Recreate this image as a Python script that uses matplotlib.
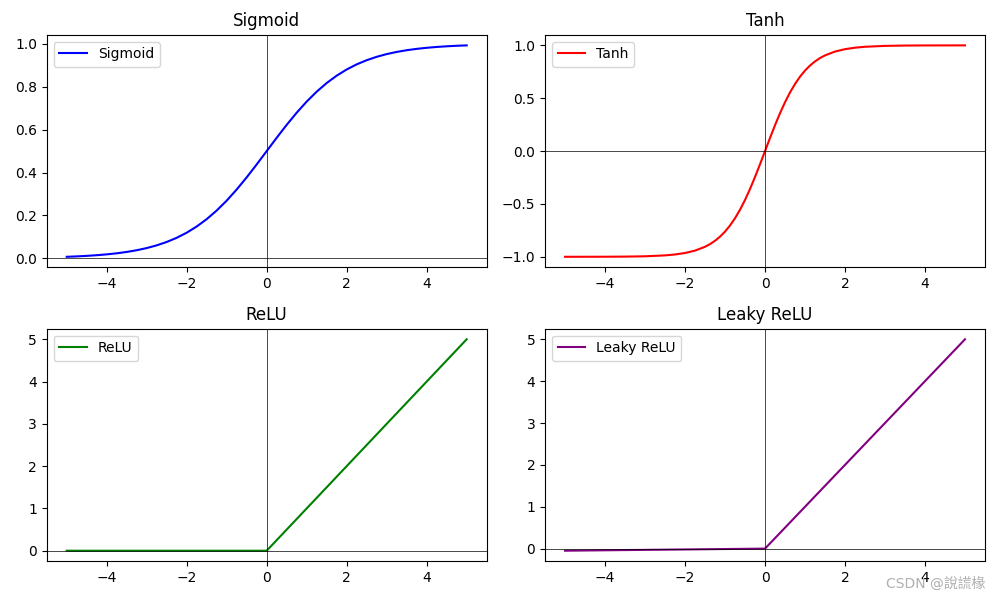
import matplotlib.pyplot as plt

plt.rcParams['font.family'] = ['DejaVu Sans', 'Noto Sans CJK TC']

# Values
sig_x = [-5, -4.75, -4.5, -4.25, -4, -3.75, -3.5, -3.25, -3, -2.75, -2.5, -2.25, -2,
         -1.75, -1.5, -1.25, -1, -0.75, -0.5, -0.25, 0,
         0.25, 0.5, 0.75, 1, 1.25, 1.5, 1.75, 2, 2.25, 2.5, 2.75, 3,
         3.25, 3.5, 3.75, 4, 4.25, 4.5, 4.75, 5]
sig_y = [0.0067, 0.0086, 0.0110, 0.0141, 0.0180, 0.0230, 0.0293, 0.0373, 0.0474, 0.0601,
         0.0759, 0.0953, 0.1192, 0.1480, 0.1824, 0.2227, 0.2689, 0.3208, 0.3775, 0.4378, 0.5,
         0.5622, 0.6225, 0.6792, 0.7311, 0.7773, 0.8176, 0.8520, 0.8808, 0.9047, 0.9241,
         0.9399, 0.9526, 0.9627, 0.9707, 0.9770, 0.9820, 0.9859, 0.9890, 0.9914, 0.9933]

tanh_x = [-5, -4, -3.5, -3, -2.5, -2.25, -2, -1.75, -1.5, -1.375, -1.25, -1.125, -1,
          -0.875, -0.75, -0.625, -0.5, -0.375, -0.25, -0.125, 0,
          0.125, 0.25, 0.375, 0.5, 0.625, 0.75, 0.875, 1, 1.125, 1.25, 1.375, 1.5,
          1.75, 2, 2.25, 2.5, 3, 3.5, 4, 5]
tanh_y = [-0.9999, -0.9993, -0.9982, -0.9951, -0.9866, -0.9780, -0.9640, -0.9414, -0.9051,
          -0.8800, -0.8483, -0.8093, -0.7616, -0.7039, -0.6351, -0.5546, -0.4621, -0.3584,
          -0.2449, -0.1244, 0.0,
          0.1244, 0.2449, 0.3584, 0.4621, 0.5546, 0.6351, 0.7039, 0.7616, 0.8093, 0.8483,
          0.8800, 0.9051, 0.9414, 0.9640, 0.9780, 0.9866, 0.9951, 0.9982, 0.9993, 0.9999]

relu_x = [-5, 0, 5]
relu_y = [0, 0, 5]

leaky_x = [-5, 0, 5]
leaky_y = [-0.05, 0, 5]

panels = [
    ("Sigmoid", sig_x, sig_y, "blue"),
    ("Tanh", tanh_x, tanh_y, "red"),
    ("ReLU", relu_x, relu_y, "green"),
    ("Leaky ReLU", leaky_x, leaky_y, "purple"),
]

fig, axes = plt.subplots(2, 2, figsize=(10, 6), dpi=100)
for ax, (name, x, y, c) in zip(axes.flat, panels):
    ax.plot(x, y, color=c, label=name)
    ax.axhline(0, color="black", linewidth=0.5)
    ax.axvline(0, color="black", linewidth=0.5)
    ax.set_title(name)
    ax.legend(loc="upper left")

plt.tight_layout()
fig.subplots_adjust(top=0.942)
fig.text(0.985, 0.015, "CSDN @說謊椽", ha="right", va="bottom",
         color="#b0b0b0", fontsize=10)
plt.savefig("out.png")
